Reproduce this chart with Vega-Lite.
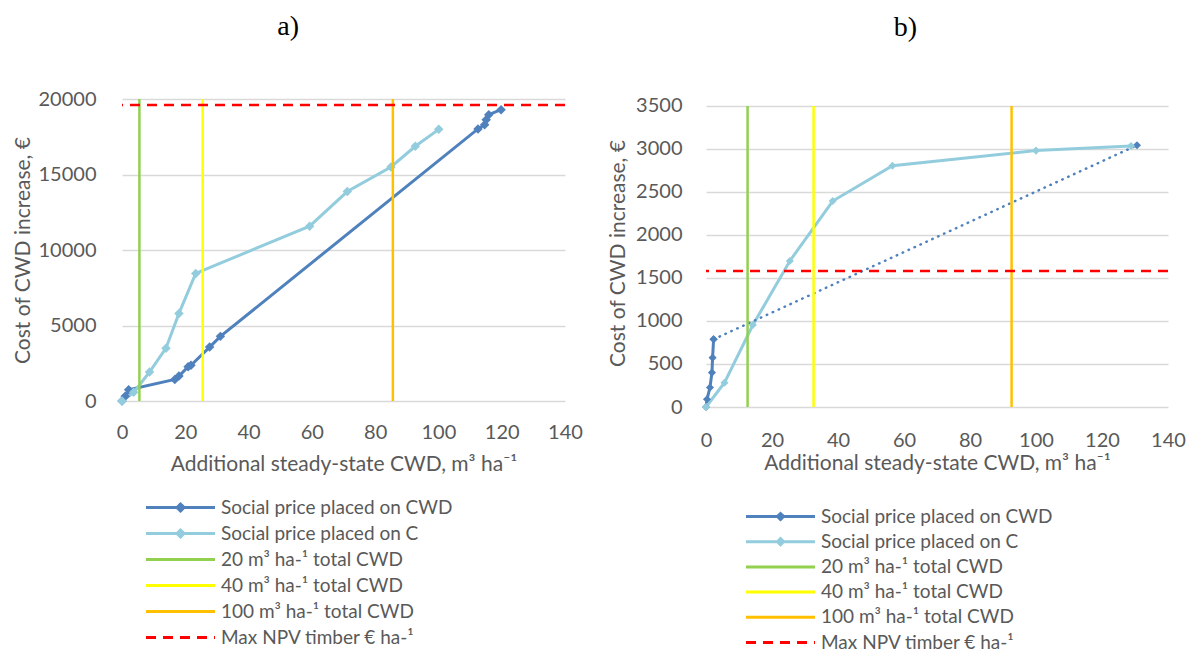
{
  "$schema": "https://vega.github.io/schema/vega-lite/v6.json",
  "background": "white",
  "padding": {"left": 12, "top": 13, "right": 0, "bottom": 0},
  "datasets": {
    "a_curves": [
      {"s": "Social price placed on CWD", "x": 0, "y": 0, "part": "main"},
      {"s": "Social price placed on CWD", "x": 1, "y": 320, "part": "main"},
      {"s": "Social price placed on CWD", "x": 2.1, "y": 740, "part": "main"},
      {"s": "Social price placed on CWD", "x": 16.7, "y": 1430, "part": "main"},
      {"s": "Social price placed on CWD", "x": 18, "y": 1650, "part": "main"},
      {"s": "Social price placed on CWD", "x": 20.9, "y": 2270, "part": "main"},
      {"s": "Social price placed on CWD", "x": 21.8, "y": 2360, "part": "main"},
      {"s": "Social price placed on CWD", "x": 27.7, "y": 3570, "part": "main"},
      {"s": "Social price placed on CWD", "x": 31.1, "y": 4280, "part": "main"},
      {"s": "Social price placed on CWD", "x": 112.5, "y": 18020, "part": "main"},
      {"s": "Social price placed on CWD", "x": 114.6, "y": 18300, "part": "main"},
      {"s": "Social price placed on CWD", "x": 115.1, "y": 18630, "part": "main"},
      {"s": "Social price placed on CWD", "x": 115.9, "y": 18960, "part": "main"},
      {"s": "Social price placed on CWD", "x": 119.8, "y": 19290, "part": "main"},
      {"s": "Social price placed on C", "x": 0, "y": 0, "part": "main"},
      {"s": "Social price placed on C", "x": 3.7, "y": 575, "part": "main"},
      {"s": "Social price placed on C", "x": 8.7, "y": 1920, "part": "main"},
      {"s": "Social price placed on C", "x": 13.9, "y": 3500, "part": "main"},
      {"s": "Social price placed on C", "x": 18, "y": 5800, "part": "main"},
      {"s": "Social price placed on C", "x": 23.3, "y": 8450, "part": "main"},
      {"s": "Social price placed on C", "x": 59.3, "y": 11580, "part": "main"},
      {"s": "Social price placed on C", "x": 71.2, "y": 13870, "part": "main"},
      {"s": "Social price placed on C", "x": 85, "y": 15500, "part": "main"},
      {"s": "Social price placed on C", "x": 92.7, "y": 16870, "part": "main"},
      {"s": "Social price placed on C", "x": 100.1, "y": 17990, "part": "main"}
    ],
    "a_v": [
      {"s": "20 m³ ha-¹ total CWD", "v": 5.5},
      {"s": "40 m³ ha-¹ total CWD", "v": 25.5},
      {"s": "100 m³ ha-¹ total CWD", "v": 85.6}
    ],
    "a_h": [
      {"s": "Max NPV timber € ha-¹", "v": 19600}
    ],
    "b_curves": [
      {"s": "Social price placed on CWD", "x": 0, "y": 0, "part": "main"},
      {"s": "Social price placed on CWD", "x": 0.3, "y": 90, "part": "main"},
      {"s": "Social price placed on CWD", "x": 1.2, "y": 226, "part": "main"},
      {"s": "Social price placed on CWD", "x": 1.8, "y": 400, "part": "main"},
      {"s": "Social price placed on CWD", "x": 2.0, "y": 574, "part": "main"},
      {"s": "Social price placed on CWD", "x": 2.3, "y": 787, "part": "main"},
      {"s": "Social price placed on CWD", "x": 2.3, "y": 787, "part": "link"},
      {"s": "Social price placed on CWD", "x": 130.6, "y": 3043, "part": "link"},
      {"s": "Social price placed on C", "x": 0, "y": 0, "part": "main"},
      {"s": "Social price placed on C", "x": 5.6, "y": 283, "part": "main"},
      {"s": "Social price placed on C", "x": 14.2, "y": 953, "part": "main"},
      {"s": "Social price placed on C", "x": 25.4, "y": 1698, "part": "main"},
      {"s": "Social price placed on C", "x": 38.4, "y": 2395, "part": "main"},
      {"s": "Social price placed on C", "x": 56.5, "y": 2806, "part": "main"},
      {"s": "Social price placed on C", "x": 100, "y": 2981, "part": "main"},
      {"s": "Social price placed on C", "x": 128.8, "y": 3035, "part": "main"}
    ],
    "b_v": [
      {"s": "20 m³ ha-¹ total CWD", "v": 12.6, "lo": 0, "hi": 3500},
      {"s": "40 m³ ha-¹ total CWD", "v": 32.6, "lo": 0, "hi": 3500},
      {"s": "100 m³ ha-¹ total CWD", "v": 92.6, "lo": 0, "hi": 3500}
    ],
    "b_h": [
      {"s": "Max NPV timber € ha-¹", "v": 1580}
    ]
  },
  "columns": 2,
  "align": "none",
  "spacing": 24,
  "resolve": {"scale": {"color": "independent"}, "legend": {"color": "independent"}},
  "concat": [
    {
      "width": 443,
      "height": 302,
      "title": {"text": "a)", "font": "Liberation Serif", "fontSize": 28, "fontWeight": "normal", "color": "black", "anchor": "middle", "frame": "bounds", "offset": 48, "dx": -9},
      "layer": [
        {
          "data": {"name": "a_curves"},
          "transform": [{"filter": "datum.part === 'main'"}],
          "mark": {"type": "line", "strokeWidth": 3},
          "encoding": {
            "x": {"field": "x", "type": "quantitative", "scale": {"domain": [0, 140], "nice": false}, "axis": {"values": [0, 20, 40, 60, 80, 100, 120, 140], "title": "Additional steady-state CWD, m³ ha⁻¹", "labelPadding": 21, "titlePadding": 11}},
            "y": {"field": "y", "type": "quantitative", "scale": {"domain": [0, 20000], "nice": false}, "axis": {"values": [0, 2500, 5000, 7500, 10000, 12500, 15000, 17500, 20000], "format": "d", "title": "Cost of CWD increase, €", "labelPadding": 26, "titlePadding": 5}},
            "color": {"field": "s", "type": "nominal",
              "scale": {"domain": ["Social price placed on CWD", "Social price placed on C", "20 m³ ha-¹ total CWD", "40 m³ ha-¹ total CWD", "100 m³ ha-¹ total CWD", "Max NPV timber € ha-¹"], "range": ["#4f81bd", "#93cddd", "#92d050", "#ffff00", "#ffc000", "#ff0000"]},
              "legend": {"orient": "none", "legendX": 49, "legendY": 399, "title": null, "symbolSize": 100, "symbolStrokeWidth": 3, "labelFont": "Lato", "labelFontSize": 19, "labelColor": "#595959", "labelOffset": 31, "labelLimit": 0, "rowPadding": 6,
                "encode": {"symbols": {"update": {
                  "shape": {"signal": "datum.value === 'Social price placed on CWD' || datum.value === 'Social price placed on C' ? 'M-6.9,0H6.9M0,-0.7L0.7,0L0,0.7L-0.7,0Z' : 'M-6.9,0H6.9'"},
                  "fill": {"signal": "datum.value === 'Social price placed on CWD' ? '#4f81bd' : datum.value === 'Social price placed on C' ? '#93cddd' : 'transparent'"},
                  "strokeDash": {"signal": "datum.value === 'Max NPV timber € ha-¹' ? [10, 7] : [1, 0]"}
                }}}}
            }
          }
        },
        {
          "data": {"name": "a_curves"},
          "mark": {"type": "point", "shape": "diamond", "filled": true, "size": 90, "opacity": 1},
          "encoding": {
            "x": {"field": "x", "type": "quantitative"},
            "y": {"field": "y", "type": "quantitative"},
            "color": {"field": "s", "type": "nominal"}
          }
        },
        {
          "data": {"name": "a_v"},
          "mark": {"type": "rule", "strokeWidth": 2.5},
          "encoding": {
            "x": {"field": "v", "type": "quantitative"},
            "color": {"field": "s", "type": "nominal"}
          }
        },
        {
          "data": {"name": "a_h"},
          "mark": {"type": "rule", "strokeWidth": 2.5, "strokeDash": [10, 7]},
          "encoding": {
            "y": {"field": "v", "type": "quantitative"},
            "color": {"field": "s", "type": "nominal"}
          }
        }
      ]
    },
    {
      "width": 462,
      "height": 308,
      "title": {"text": "b)", "font": "Liberation Serif", "fontSize": 28, "fontWeight": "normal", "color": "black", "anchor": "middle", "frame": "bounds", "offset": 54, "dx": 9},
      "layer": [
        {
          "data": {"name": "b_curves"},
          "transform": [{"filter": "datum.part === 'main'"}],
          "mark": {"type": "line", "strokeWidth": 3},
          "encoding": {
            "x": {"field": "x", "type": "quantitative", "scale": {"domain": [0, 140], "nice": false}, "axis": {"values": [0, 20, 40, 60, 80, 100, 120, 140], "title": "Additional steady-state CWD, m³ ha⁻¹", "labelPadding": 23, "titlePadding": 2}},
            "y": {"field": "y", "type": "quantitative", "scale": {"domain": [0, 3581], "nice": false}, "axis": {"values": [0, 500, 1000, 1500, 2000, 2500, 3000, 3500], "format": "d", "title": "Cost of CWD increase, €", "labelPadding": 24, "titlePadding": 7}},
            "color": {"field": "s", "type": "nominal",
              "scale": {"domain": ["Social price placed on CWD", "Social price placed on C", "20 m³ ha-¹ total CWD", "40 m³ ha-¹ total CWD", "100 m³ ha-¹ total CWD", "Max NPV timber € ha-¹"], "range": ["#4f81bd", "#93cddd", "#92d050", "#ffff00", "#ffc000", "#ff0000"]},
              "legend": {"orient": "none", "legendX": 65, "legendY": 408, "title": null, "symbolSize": 100, "symbolStrokeWidth": 3, "labelFont": "Lato", "labelFontSize": 19, "labelColor": "#595959", "labelOffset": 31, "labelLimit": 0, "rowPadding": 5.2,
                "encode": {"symbols": {"update": {
                  "shape": {"signal": "datum.value === 'Social price placed on CWD' || datum.value === 'Social price placed on C' ? 'M-6.9,0H6.9M0,-0.6L0.6,0L0,0.6L-0.6,0Z' : 'M-6.9,0H6.9'"},
                  "fill": {"signal": "datum.value === 'Social price placed on CWD' ? '#4f81bd' : datum.value === 'Social price placed on C' ? '#93cddd' : 'transparent'"},
                  "strokeDash": {"signal": "datum.value === 'Max NPV timber € ha-¹' ? [10, 7] : [1, 0]"}
                }}}}
            }
          }
        },
        {
          "data": {"name": "b_curves"},
          "transform": [{"filter": "datum.part === 'link'"}],
          "mark": {"type": "line", "strokeWidth": 2.5, "strokeDash": [0.5, 6], "strokeCap": "round"},
          "encoding": {
            "x": {"field": "x", "type": "quantitative"},
            "y": {"field": "y", "type": "quantitative"},
            "color": {"field": "s", "type": "nominal"}
          }
        },
        {
          "data": {"name": "b_curves"},
          "mark": {"type": "point", "shape": "diamond", "filled": true, "size": 65, "opacity": 1},
          "encoding": {
            "x": {"field": "x", "type": "quantitative"},
            "y": {"field": "y", "type": "quantitative"},
            "color": {"field": "s", "type": "nominal"}
          }
        },
        {
          "data": {"name": "b_v"},
          "mark": {"type": "rule", "strokeWidth": 2.5},
          "encoding": {
            "x": {"field": "v", "type": "quantitative"},
            "y": {"field": "lo", "type": "quantitative"},
            "y2": {"field": "hi"},
            "color": {"field": "s", "type": "nominal"}
          }
        },
        {
          "data": {"name": "b_h"},
          "mark": {"type": "rule", "strokeWidth": 2.5, "strokeDash": [10, 7]},
          "encoding": {
            "y": {"field": "v", "type": "quantitative"},
            "color": {"field": "s", "type": "nominal"}
          }
        }
      ]
    }
  ],
  "config": {
    "view": {"stroke": null},
    "font": "Lato",
    "axis": {"labelFont": "Lato", "labelFontSize": 20, "labelColor": "#595959", "titleFont": "Lato", "titleFontSize": 21, "titleFontWeight": "normal", "titleColor": "#595959", "grid": false, "domain": false, "ticks": false, "tickSize": 0, "labelFlush": false, "labelOverlap": false},
    "axisY": {"grid": true, "gridColor": "#d9d9d9", "gridWidth": 1.5}
  }
}
